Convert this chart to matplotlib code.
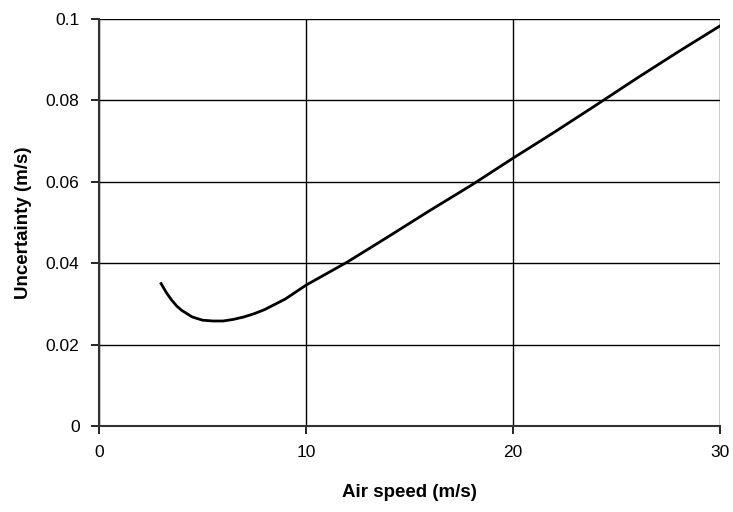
import matplotlib
matplotlib.use("Agg")
import matplotlib.pyplot as plt

speed = [3, 3.25, 3.5, 3.75, 4, 4.5, 5, 5.5, 6, 6.5, 7, 7.5, 8, 9, 10, 12, 14, 16, 18, 20,
         22, 24, 26, 28, 30]
uncert = [0.035, 0.0328, 0.031, 0.0295, 0.0284, 0.0268, 0.0260, 0.0258, 0.0258, 0.0262,
          0.0268, 0.0276, 0.0286, 0.0312, 0.0346, 0.0403, 0.0466, 0.053, 0.0592, 0.0658,
          0.0722, 0.0788, 0.0855, 0.092, 0.0983]
xticks = [0, 10, 20, 30]
yticks = [0, 0.02, 0.04, 0.06, 0.08, 0.1]
yticklabels = ["0", "0.02", "0.04", "0.06", "0.08", "0.1"]

plt.rcParams['font.family'] = ['Liberation Sans', 'DejaVu Sans']
fig = plt.figure(figsize=(7.33, 5.12), dpi=100)
ax = fig.add_axes([99/733, 86/512, 621/733, 407/512])
ax.plot(speed, uncert, color='black', lw=2.0)
ax.set_xlim(0, 30)
ax.set_ylim(0, 0.1)
ax.set_xticks(xticks)
ax.set_yticks(yticks)
ax.set_yticklabels(yticklabels)
ax.grid(True, color='black', lw=1.0)
for s in ['top', 'right']:
    ax.spines[s].set_visible(False)
for s in ['left', 'bottom']:
    ax.spines[s].set_color('#333333')
    ax.spines[s].set_linewidth(1.5)
ax.tick_params(direction='out', length=6, width=1.2, color='black', labelsize=12.5, pad=8)
ax.set_xlabel('Air speed (m/s)', fontsize=13.5, fontweight='bold', labelpad=17)
ax.set_ylabel('Uncertainty (m/s)', fontsize=13.5, fontweight='bold', labelpad=10)
fig.savefig('out.png', dpi=100)
